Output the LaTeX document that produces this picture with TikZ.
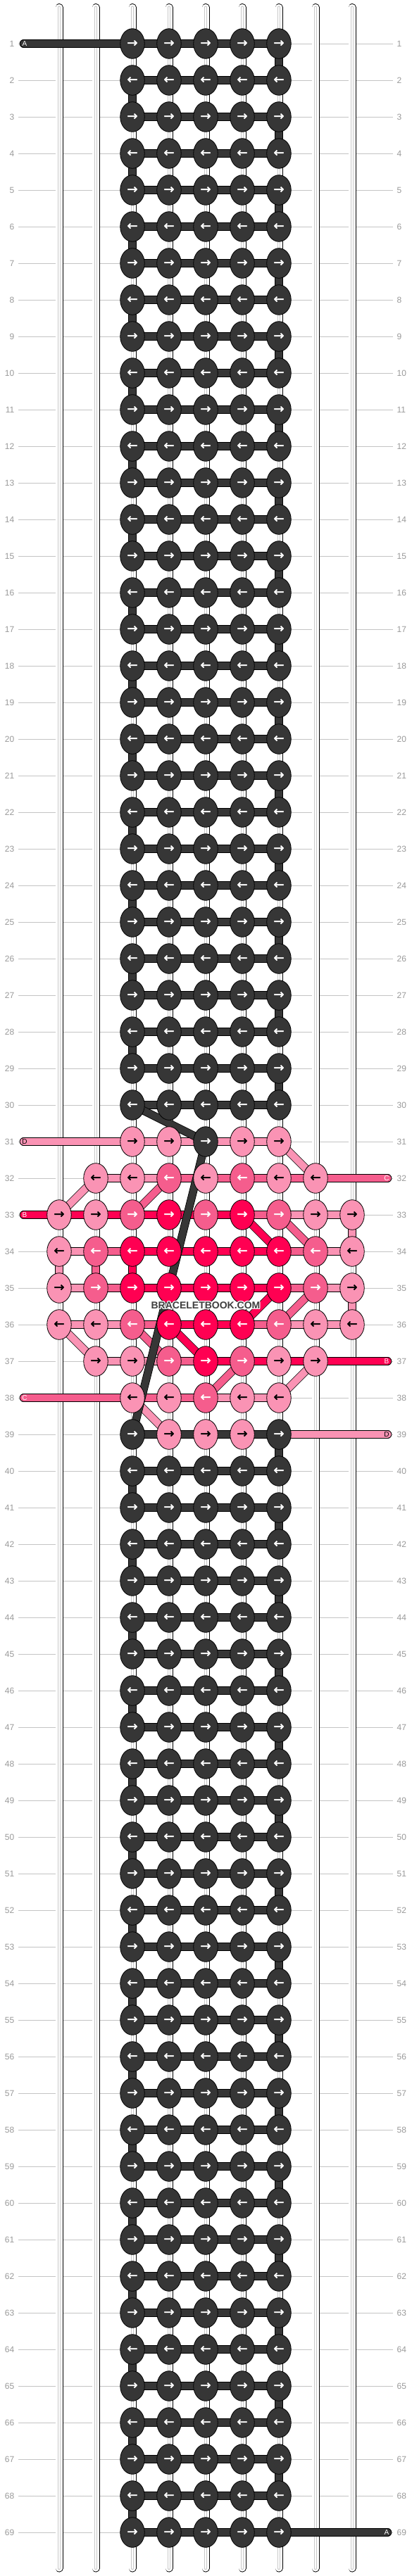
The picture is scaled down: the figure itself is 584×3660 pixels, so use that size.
\documentclass[tikz,border=0pt]{standalone}
\usepackage{fontspec}
\setmainfont{Liberation Sans}
\newfontfamily\arrowfont[FakeBold=1.6]{DejaVu Sans}
\usetikzlibrary{shapes.geometric}
\definecolor{cD}{HTML}{363636}
\definecolor{cL}{HTML}{FA93B4}
\definecolor{cM}{HTML}{F55D8D}
\definecolor{cH}{HTML}{FF0052}
\definecolor{rowline}{HTML}{C4C4C4}
\definecolor{rowlabel}{HTML}{9A9A9A}
\definecolor{strandgray}{HTML}{C8C8C8}
\definecolor{wmark}{HTML}{3E3E3E}
\pgfdeclarelayer{bg}
\pgfdeclarelayer{strands}
\pgfdeclarelayer{threads}
\pgfdeclarelayer{over}
\pgfdeclarelayer{top}
\pgfsetlayers{bg,strands,threads,over,main,top}
\tikzset{
  knot/.style={ellipse, draw=black, line width=0.8pt, minimum width=34.5pt,
    minimum height=42.6pt, inner sep=0pt,
    font=\arrowfont\fontsize{18}{18}\selectfont},
  kD/.style={knot, fill=cD, text=white},
  kL/.style={knot, fill=cL, text=black},
  kM/.style={knot, fill=cM, text=white},
  kH/.style={knot, fill=cH, text=white},
  thread/.style={draw=black, line width=0.8pt, double=#1, double distance=10pt, line cap=round},
  rowlab/.style={inner sep=0pt, text=rowlabel, font=\fontsize{12}{12}\selectfont},
  capletter/.style={inner sep=0pt, font=\fontsize{10}{10}\selectfont},
  wm/.style={inner sep=0pt, font=\bfseries\fontsize{14}{14}\selectfont}
}
\begin{document}
\begin{tikzpicture}[x=1pt,y=-1pt]
\useasboundingbox (0,0) rectangle (584,3660);
% background, row lines and row numbers
\begin{pgfonlayer}{bg}
  \fill[white] (0,0) rectangle (584,3660);
  \foreach \r in {1,...,69} {
    \draw[rowline, line width=1pt] (26,{10+52*\r}) -- (558,{10+52*\r});
    \node[rowlab, anchor=east] (ll-\r) at (20.5,{10+52*\r}) {\r};
    \node[rowlab, anchor=west] (rl-\r) at (563.5,{10+52*\r}) {\r};
  }
\end{pgfonlayer}
% vertical strands
\begin{pgfonlayer}{strands}
  \foreach \i in {0,...,8} {
    \coordinate (st-\i) at ({84+52*\i},10.5);
    \coordinate (sb-\i) at ({84+52*\i},3649);
    \draw[line cap=round, line width=11pt, black] (st-\i) -- (sb-\i);
    \draw[line cap=round, line width=9.2pt, white] (st-\i) -- (sb-\i);
    \draw[line cap=round, line width=4.4pt, strandgray] (st-\i) -- (sb-\i);
    \draw[line cap=round, line width=2.4pt, white] (st-\i) -- (sb-\i);
  }
\end{pgfonlayer}
% knots: plain rows
\foreach \r in {1,...,30,40,41,...,69} {
  \foreach \c in {2,...,6} {
    \ifodd\r\relax\def\ar{→}\else\def\ar{←}\fi
    \node[kD] (n-\r-\c) at ({84+52*\c},{10+52*\r}) {\ar};
  }
}
% knots: pattern rows
\foreach \r/\cells in {
  31/{2/L,3/L,4/D,5/L,6/L},
  32/{1/L,2/L,3/M,4/L,5/M,6/L,7/L},
  33/{0/L,1/L,2/M,3/H,4/M,5/H,6/M,7/L,8/L},
  34/{0/L,1/M,2/H,3/H,4/H,5/H,6/H,7/M,8/L},
  35/{0/L,1/M,2/H,3/H,4/H,5/H,6/H,7/M,8/L},
  36/{0/L,1/L,2/M,3/H,4/H,5/H,6/M,7/L,8/L},
  37/{1/L,2/L,3/M,4/H,5/M,6/L,7/L},
  38/{2/L,3/L,4/M,5/L,6/L},
  39/{2/D,3/L,4/L,5/L,6/D}} {
  \foreach \c/\k in \cells {
    \ifodd\r\relax\def\ar{→}\else\def\ar{←}\fi
    \node[k\k] (n-\r-\c) at ({84+52*\c},{10+52*\r}) {\ar};
  }
}
% cap coordinates
\foreach \r in {1,31,33,38} { \coordinate (capL-\r) at (33.5,{10+52*\r}); }
\foreach \r in {32,37,39,69} { \coordinate (capR-\r) at (550.5,{10+52*\r}); }
\begin{pgfonlayer}{threads}
  % horizontal bars, plain rows
  \foreach \r in {1,...,30,40,41,...,69} {
    \foreach \c/\cn in {2/3,3/4,4/5,5/6} {
      \draw[thread=cD] (n-\r-\c.center) -- (n-\r-\cn.center);
    }
  }
  % horizontal bars, pattern rows
  \foreach \r/\bars in {
    31/{2/3/L,3/4/L,4/5/L,5/6/L},
    32/{1/2/L,2/3/L,3/4/M,4/5/M,5/6/M,6/7/M},
    33/{0/1/H,1/2/H,2/3/H,3/4/H,4/5/H,5/6/M,6/7/L,7/8/L},
    34/{0/1/L,1/2/M,2/3/H,3/4/H,4/5/H,5/6/H,6/7/M,7/8/L},
    35/{0/1/L,1/2/M,2/3/H,3/4/H,4/5/H,5/6/H,6/7/M,7/8/L},
    36/{0/1/L,1/2/L,2/3/M,3/4/H,4/5/H,5/6/M,6/7/L,7/8/L},
    37/{1/2/L,2/3/L,3/4/M,4/5/H,5/6/H,6/7/H},
    38/{2/3/M,3/4/M,4/5/L,5/6/L},
    39/{2/3/D,3/4/D,4/5/D,5/6/D}} {
    \foreach \c/\cn/\k in \bars {
      \draw[thread=c\k] (n-\r-\c.center) -- (n-\r-\cn.center);
    }
  }
  % thread ends
  \draw[thread=cD] (capL-1) -- (n-1-2.center);
  \draw[thread=cL] (capL-31) -- (n-31-2.center);
  \draw[thread=cH] (capL-33) -- (n-33-0.center);
  \draw[thread=cM] (capL-38) -- (n-38-2.center);
  \draw[thread=cM] (n-32-7.center) -- (capR-32);
  \draw[thread=cH] (n-37-7.center) -- (capR-37);
  \draw[thread=cL] (n-39-6.center) -- (capR-39);
  \draw[thread=cD] (n-69-6.center) -- (capR-69);
  % vertical links, plain rows
  \foreach \r/\rn in {1/2,3/4,5/6,7/8,9/10,11/12,13/14,15/16,17/18,19/20,21/22,23/24,25/26,27/28,29/30,
                      39/40,41/42,43/44,45/46,47/48,49/50,51/52,53/54,55/56,57/58,59/60,61/62,63/64,65/66,67/68} {
    \draw[thread=cD] (n-\r-6.center) -- (n-\rn-6.center);
  }
  \foreach \r/\rn in {2/3,4/5,6/7,8/9,10/11,12/13,14/15,16/17,18/19,20/21,22/23,24/25,26/27,28/29,
                      40/41,42/43,44/45,46/47,48/49,50/51,52/53,54/55,56/57,58/59,60/61,62/63,64/65,66/67,68/69} {
    \draw[thread=cD] (n-\r-2.center) -- (n-\rn-2.center);
  }
  % vertical links, pattern rows
  \foreach \r/\rn/\c/\k in {33/34/8/L, 34/35/0/L, 34/35/1/M, 34/35/2/H, 35/36/8/L} {
    \draw[thread=c\k] (n-\r-\c.center) -- (n-\rn-\c.center);
  }
  % diagonal links
  \foreach \ra/\ca/\rb/\cb/\k in {31/6/32/7/L, 32/1/33/0/L, 32/3/33/2/M, 33/5/34/6/H, 33/6/34/7/M,
      35/6/36/5/H, 35/7/36/6/M, 36/0/37/1/L, 36/2/37/3/M, 36/3/37/4/H,
      37/5/38/4/M, 37/7/38/6/L, 38/2/39/3/L} {
    \draw[thread=c\k] (n-\ra-\ca.center) -- (n-\rb-\cb.center);
  }
\end{pgfonlayer}
\begin{pgfonlayer}{over}
  \draw[thread=cD] (n-30-2.center) -- (n-31-4.center);
  \draw[thread=cD] (n-31-4.center) -- (n-39-2.center);
\end{pgfonlayer}
% thread end letters
\node[capletter, text=white] (lA1) at (35,{10+52*1}) {A};
\node[capletter, text=black] (lD31) at (35,{10+52*31}) {D};
\node[capletter, text=white] (lB33) at (35,{10+52*33}) {B};
\node[capletter, text=white] (lC38) at (35,{10+52*38}) {C};
\node[capletter, text=white] (lC32) at (549,{10+52*32}) {C};
\node[capletter, text=white] (lB37) at (549,{10+52*37}) {B};
\node[capletter, text=black] (lD39) at (549,{10+52*39}) {D};
\node[capletter, text=white] (lA69) at (549,{10+52*69}) {A};
% watermark
\begin{pgfonlayer}{top}
  \foreach \dx/\dy [count=\k] in {-1/0,1/0,0/-1,0/1,-1/-1,1/1,-1/1,1/-1} {
    \node[wm, text=white] (wm-\k) at ({292+\dx},{1855+\dy}) {BRACELETBOOK.COM};
  }
  \node[wm, text=wmark] (wm) at (292,1855) {BRACELETBOOK.COM};
\end{pgfonlayer}
\end{tikzpicture}
\end{document}
